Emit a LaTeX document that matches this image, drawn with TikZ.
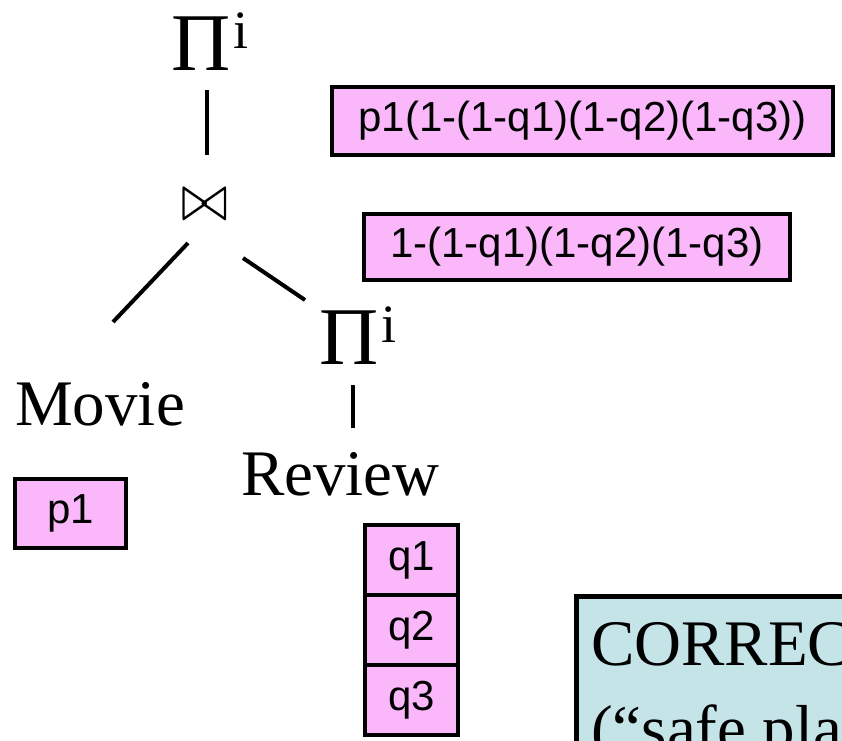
\documentclass[tikz,border=0pt]{standalone}
\usepackage{fontspec}
\usepackage{graphicx}
\newfontfamily\serifface{Liberation Serif}
\newfontfamily\sansface{Liberation Sans}
\definecolor{annot}{RGB}{250,184,250}
\definecolor{verdict}{RGB}{196,228,232}
\tikzset{
  label/.style={inner sep=0pt, anchor=base west, font=\serifface\fontsize{65}{74}\selectfont},
  opnode/.style={inner sep=0pt, anchor=base west},
  edge/.style={line width=4pt},
  probbox/.style={draw, line width=4.5pt, fill=annot, inner sep=0pt,
    font=\sansface\fontsize{42}{48}\selectfont},
  notebox/.style={draw, line width=5pt, fill=verdict, inner sep=0pt, outer sep=0pt}
}
\newcommand{\projop}{{\fontsize{82}{82}\selectfont Π}\kern3pt\raisebox{22pt}{\fontsize{54}{54}\selectfont i}}
\begin{document}
\begin{tikzpicture}[x=1pt,y=-1pt]
\useasboundingbox (0,0) rectangle (842,740);
\clip (0,0) rectangle (842,740);

% operator tree
\node[opnode, font=\serifface] (piTop) at (171,70) {\projop};
\node[inner sep=0pt] (join) at (205,205) {\resizebox{46pt}{31pt}{$\bowtie$}};
\node[opnode, font=\serifface] (piR) at (319,364) {\projop};
\node[label] (movie) at (15,425) {Movie};
\node[label] (review) at (241,495) {Review};

\draw[edge] ([shift={(36,20)}]piTop.base west) -- ([shift={(2,-50)}]join.center);
\draw[edge] ([shift={(-17,38)}]join.center) -- ([shift={(98,-103)}]movie.base west);
\draw[edge] ([shift={(38,53)}]join.center) -- ([shift={(-14,-64)}]piR.base west);
\draw[edge] ([shift={(34,21)}]piR.base west) -- ([shift={(112,-67)}]review.base west);

% probability annotations
\node[probbox, minimum width=501pt, minimum height=68pt] (ptop) at (582.5,121) {p1(1-(1-q1)(1-q2)(1-q3))};
\node[probbox, minimum width=426pt, minimum height=66pt] (pmid) at (577,247) {1-(1-q1)(1-q2)(1-q3)};
\node[probbox, minimum width=111pt, minimum height=69pt] (pm) at (70.5,513.5) {p1};
\node[probbox, minimum width=93pt, minimum height=70pt] (q1) at (411.5,560) {q1};
\node[probbox, minimum width=93pt, minimum height=70pt] (q2) at (411.5,630) {q2};
\node[probbox, minimum width=93pt, minimum height=70pt] (q3) at (411.5,700) {q3};

% verdict box
\node[notebox, anchor=north west, minimum width=320pt, minimum height=200pt] (note) at (576,596) {};
\node[label] (noteText) at (591,665) {CORRECT};
\node[label] (noteText2) at (591,750) {(“safe plan”)};
\end{tikzpicture}
\end{document}
